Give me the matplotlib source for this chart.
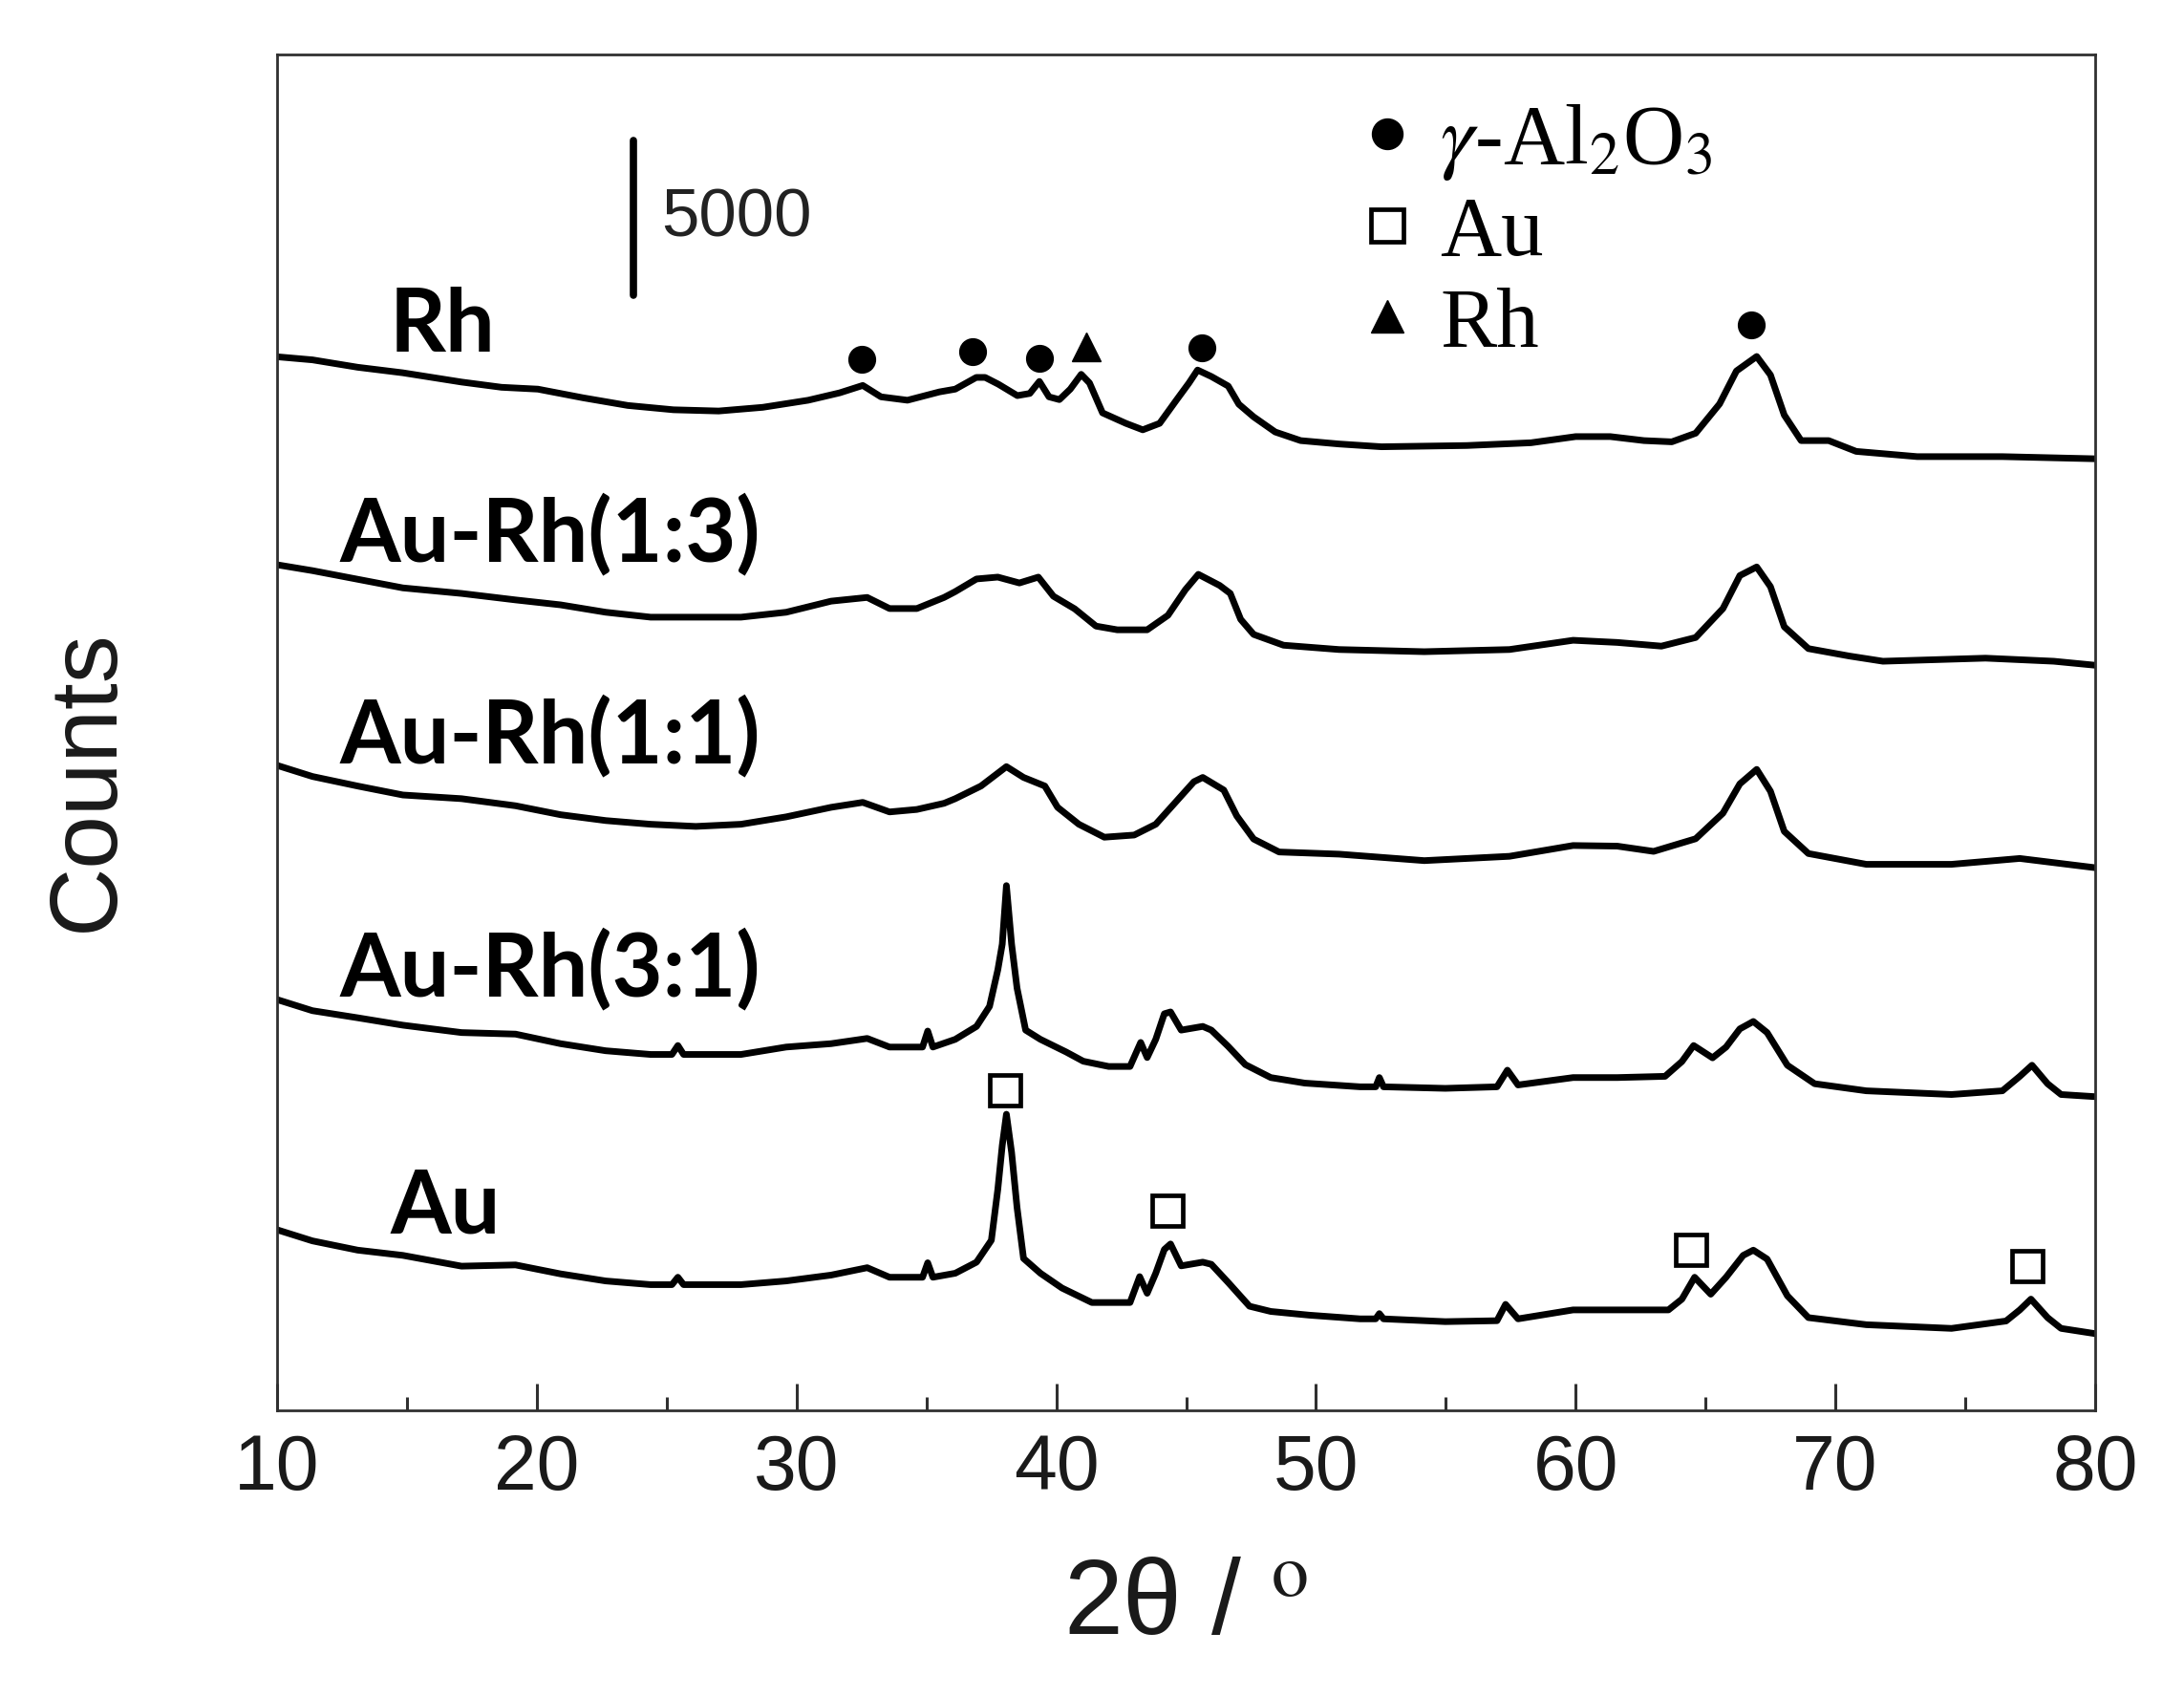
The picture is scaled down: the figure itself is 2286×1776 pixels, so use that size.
import matplotlib
matplotlib.use("Agg")
import matplotlib.pyplot as plt
from matplotlib.lines import Line2D
from matplotlib.ticker import MultipleLocator, NullLocator

plt.rcParams['mathtext.fontset'] = 'stix'

# XRD patterns: 2theta (deg) and counts (before stacking)
rh_x = [10.0, 11.36, 13.1, 14.84, 17.1, 18.64, 20.04, 21.77, 23.5, 25.26, 27.0, 28.7,
        30.45, 31.66, 32.55, 33.25, 34.27, 35.5, 36.11, 36.92, 37.26, 37.77, 38.5, 38.98,
        39.35, 39.72, 40.12, 40.54, 40.96, 41.28, 41.78, 42.68, 43.33, 43.98, 44.64, 45.11,
        45.44, 45.97, 46.62, 47.03, 47.6, 48.43, 49.41, 50.89, 52.52, 55.81, 58.28, 60.0,
        61.33, 62.63, 63.7, 64.62, 65.54, 66.19, 66.97, 67.5, 68.03, 68.68, 69.74, 70.8,
        73.15, 76.43, 80.0]
rh_y = [6190, 6090, 5850, 5670, 5370, 5200, 5140, 4860, 4610, 4470, 4430, 4550,
        4780, 5020, 5260, 4890, 4780, 5050, 5140, 5520, 5520, 5300, 4930, 5000,
        5390, 4890, 4800, 5140, 5620, 5340, 4370, 4030, 3820, 4030, 4800, 5340,
        5760, 5550, 5240, 4650, 4240, 3750, 3470, 3360, 3270, 3310, 3400, 3600,
        3600, 3470, 3430, 3710, 4660, 5730, 6200, 5600, 4300, 3470, 3470, 3120,
        2950, 2950, 2880]

ar13_x = [10.0, 11.36, 13.1, 14.84, 17.1, 19.18, 20.91, 22.65, 24.38, 26.12, 27.86, 29.6,
          31.33, 32.72, 33.58, 34.63, 35.68, 36.11, 36.93, 37.75, 38.58, 39.31, 39.89, 40.71,
          41.53, 42.35, 43.5, 44.3, 44.97, 45.47, 46.29, 46.7, 47.1, 47.6, 48.75, 50.89,
          54.17, 57.45, 59.9, 61.6, 63.3, 64.62, 65.67, 66.32, 66.97, 67.5, 68.03, 68.96,
          70.53, 71.83, 75.78, 78.41, 80.0]
ar13_y = [6440, 6250, 5970, 5690, 5510, 5300, 5140, 4900, 4740, 4740, 4740, 4900,
          5260, 5380, 5020, 5020, 5380, 5570, 5980, 6040, 5850, 6040, 5420, 5010,
          4450, 4330, 4330, 4800, 5630, 6130, 5770, 5510, 4670, 4180, 3830, 3690,
          3620, 3690, 3990, 3920, 3800, 4080, 5020, 6090, 6370, 5730, 4430, 3720,
          3480, 3310, 3410, 3310, 3180]

ar11_x = [10.0, 11.36, 13.1, 14.84, 17.1, 19.18, 20.91, 22.65, 24.38, 26.12, 27.86, 29.6,
          31.33, 32.55, 33.58, 34.63, 35.68, 36.11, 37.1, 38.08, 38.74, 39.56, 40.05, 40.87,
          41.85, 43.0, 43.83, 44.64, 45.3, 45.64, 46.45, 46.95, 47.6, 48.58, 50.89, 54.17,
          57.45, 59.9, 61.6, 63.0, 64.62, 65.67, 66.32, 66.97, 67.5, 68.03, 68.96, 71.19,
          74.47, 77.1, 80.0]
ar11_y = [6930, 6570, 6260, 5970, 5850, 5620, 5330, 5140, 5020, 4950, 5020, 5260,
          5570, 5730, 5420, 5500, 5700, 5850, 6260, 6890, 6540, 6260, 5570, 5020,
          4600, 4670, 5020, 5780, 6400, 6540, 6130, 5290, 4540, 4120, 4050, 3840,
          3980, 4330, 4310, 4140, 4550, 5380, 6330, 6800, 6090, 4790, 4070, 3720,
          3720, 3910, 3610]

ar31_x = [10.0, 11.36, 13.1, 14.84, 17.1, 19.18, 20.91, 22.65, 24.38, 25.2, 25.43, 25.65,
          26.12, 27.86, 29.6, 31.33, 32.72, 33.58, 34.63, 34.85, 35.05, 35.25, 36.11, 36.93,
          37.43, 37.75, 37.92, 38.08, 38.28, 38.49, 38.82, 39.39, 40.38, 41.04, 42.02, 42.84,
          43.25, 43.5, 43.83, 44.16, 44.4, 44.81, 45.64, 45.97, 46.62, 47.28, 48.26, 49.57,
          51.7, 52.3, 52.44, 52.6, 54.98, 56.97, 57.37, 57.78, 59.9, 61.6, 63.44, 64.09,
          64.54, 65.27, 65.79, 66.32, 66.84, 67.37, 68.15, 69.2, 71.19, 74.47, 76.43, 77.1,
          77.57, 78.17, 78.69, 80.0]
ar31_y = [6330, 5970, 5740, 5500, 5260, 5210, 4900, 4670, 4550, 4550, 4840, 4550,
          4550, 4550, 4790, 4900, 5070, 4790, 4790, 4790, 5310, 4790, 5040, 5460,
          6110, 7300, 8130, 10030, 8130, 6700, 5340, 5040, 4630, 4330, 4160, 4160,
          4940, 4450, 5040, 5870, 5930, 5340, 5460, 5340, 4810, 4220, 3800, 3620,
          3500, 3500, 3800, 3500, 3450, 3500, 4040, 3560, 3800, 3800, 3840, 4320,
          4840, 4440, 4790, 5380, 5620, 5260, 4200, 3600, 3370, 3250, 3370, 3840,
          4200, 3600, 3250, 3180]

au_x = [10.0, 11.36, 13.1, 14.84, 17.1, 19.18, 20.91, 22.65, 24.38, 25.2, 25.43, 25.65,
        26.12, 27.86, 29.6, 31.33, 32.72, 33.58, 34.63, 34.85, 35.05, 35.25, 36.11, 36.93,
        37.5, 37.75, 37.92, 38.08, 38.28, 38.49, 38.74, 39.39, 40.22, 41.37, 42.84, 43.21,
        43.5, 43.83, 44.16, 44.4, 44.81, 45.64, 45.97, 46.62, 47.44, 48.26, 49.74, 51.7,
        52.3, 52.44, 52.6, 54.98, 56.97, 57.3, 57.78, 59.9, 61.99, 63.57, 64.09, 64.58,
        65.2, 65.79, 66.45, 66.84, 67.37, 68.15, 68.96, 71.19, 74.47, 76.57, 77.1, 77.53,
        78.17, 78.69, 80.0]
au_y = [5860, 5500, 5200, 5030, 4680, 4720, 4430, 4200, 4080, 4080, 4320, 4080,
        4080, 4080, 4200, 4390, 4630, 4320, 4320, 4320, 4790, 4320, 4450, 4810,
        5520, 7180, 8600, 9610, 8370, 6580, 4930, 4450, 3970, 3500, 3500, 4340,
        3800, 4450, 5220, 5400, 4690, 4810, 4740, 4150, 3380, 3210, 3090, 2970,
        2970, 3140, 2970, 2880, 2910, 3440, 2970, 3260, 3260, 3260, 3610, 4320,
        3770, 4320, 5030, 5200, 4910, 3720, 3010, 2780, 2660, 2900, 3260, 3610,
        3010, 2660, 2490]

samples = ['Rh', 'Au-Rh(1:3)', 'Au-Rh(1:1)', 'Au-Rh(3:1)', 'Au']
patterns = [(rh_x, rh_y), (ar13_x, ar13_y), (ar11_x, ar11_y), (ar31_x, ar31_y), (au_x, au_y)]
offsets = [28000, 21000, 14000, 7000, 0]

# where each sample name sits (2theta, counts at baseline)
label_x = [14.34, 12.39, 12.39, 12.39, 14.34]
label_y = [34350, 27560, 21020, 13450, 5740]

# phase markers above the reflections
al2o3_x = [32.5, 36.77, 39.35, 45.6, 66.75]
al2o3_y = [34100, 34350, 34130, 34490, 35220]
rh_peak_x = [41.17]
rh_peak_y = [34520]
au_peak_x = [38.03, 44.28, 64.43, 77.38]
au_peak_y = [10390, 6480, 5210, 4680]

fig = plt.figure(figsize=(22.86, 17.76), dpi=100)
ax = fig.add_axes([0.1269, 0.1689, 0.8324, 0.7990])

for (x, y), off in zip(patterns, offsets):
    ax.plot(x, [v + off for v in y], color='black', lw=5, solid_joinstyle='round')

for name, lx, ly in zip(samples, label_x, label_y):
    ax.text(lx, ly, name, family='Lato', weight='bold', fontsize=66, va='baseline', ha='left')

ax.plot(al2o3_x, al2o3_y, 'o', color='black', ms=20, ls='none')
ax.plot(rh_peak_x, rh_peak_y, '^', color='black', ms=21, ls='none')
ax.plot(au_peak_x, au_peak_y, 's', mfc='white', mec='black', mew=3.4, ms=23, ls='none')

# 5000-count scale bar
ax.plot([23.72, 23.72], [36200, 41200], color='black', lw=5.5, solid_capstyle='round')
ax.text(24.78, 38660, '5000', family='Liberation Sans', fontsize=51, va='center', ha='left',
        color='#222222')

handles = [Line2D([], [], marker='o', ls='none', color='black', ms=23),
           Line2D([], [], marker='s', ls='none', mfc='white', mec='black', mew=3.4, ms=24),
           Line2D([], [], marker='^', ls='none', color='black', ms=24)]
ax.legend(handles, [r'$\gamma$-Al$_2$O$_3$', 'Au', 'Rh'], loc='upper left',
          bbox_to_anchor=(0.5975, 0.965), frameon=False, borderpad=0, borderaxespad=0,
          handlelength=0.55, handletextpad=0.35, labelspacing=0.16,
          prop={'family': 'Liberation Serif', 'size': 64})

ax.set_xlim(10, 80)
ax.set_ylim(0, 44000)
ax.xaxis.set_major_locator(MultipleLocator(10))
ax.xaxis.set_minor_locator(MultipleLocator(5))
ax.yaxis.set_major_locator(NullLocator())
ax.tick_params(axis='x', which='major', direction='in', length=20, width=2.2, pad=17,
               labelsize=58, labelcolor='#1a1a1a', color='#303030')
ax.tick_params(axis='x', which='minor', direction='in', length=10, width=2.2, color='#303030')
for lab in ax.get_xticklabels():
    lab.set_family('Liberation Sans')
for sp in ax.spines.values():
    sp.set_linewidth(2)
    sp.set_color('#303030')

ax.set_xlabel(r'2θ / $^{\mathrm{o}}$', family='Liberation Sans', fontsize=80, color='#1a1a1a')
ax.xaxis.set_label_coords(0.5, -0.108)
ax.set_ylabel('Counts', family='Liberation Sans', fontsize=72, color='#1a1a1a')
ax.yaxis.set_label_coords(-0.0796, 0.465)

fig.savefig('out.png', dpi=100)
